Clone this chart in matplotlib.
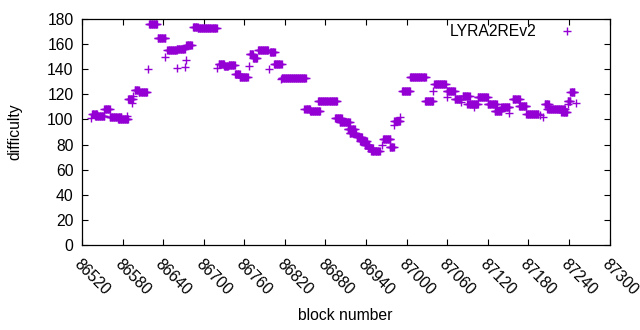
import numpy as np
import matplotlib
matplotlib.use("Agg")
import matplotlib.pyplot as plt

plt.rcParams['font.family'] = ['Liberation Sans', 'DejaVu Sans']

# Runs of consecutive blocks sharing the same difficulty
run_start = [86533, 86535, 86539, 86553, 86561, 86573, 86586, 86588, 86594, 86595,
             86598, 86604, 86618, 86619, 86632, 86643, 86646, 86660, 86660, 86672,
             86674, 86674, 86684, 86691, 86719, 86722, 86730, 86737, 86746, 86753,
             86767, 86768, 86773, 86780, 86796, 86798, 86804, 86814, 86815, 86849,
             86857, 86869, 86894, 86901, 86913, 86916, 86926, 86931, 86938, 86943,
             86948, 86963, 86965, 86975, 86982, 86982, 86990, 86993, 87005, 87027,
             87039, 87041, 87059, 87059, 87071, 87081, 87083, 87090, 87099, 87105,
             87120, 87130, 87140, 87151, 87157, 87166, 87177, 87197, 87201, 87204,
             87208, 87229, 87238, 87238, 87242, 87250]
run_end = [86533, 86542, 86553, 86561, 86578, 86588, 86586, 86595, 86594, 86595,
           86604, 86616, 86618, 86631, 86643, 86643, 86660, 86660, 86672, 86672,
           86674, 86682, 86691, 86719, 86719, 86730, 86736, 86746, 86753, 86765,
           86767, 86773, 86779, 86795, 86796, 86805, 86815, 86814, 86851, 86857,
           86872, 86897, 86904, 86916, 86923, 86925, 86934, 86941, 86945, 86950,
           86960, 86963, 86976, 86981, 86982, 86990, 86990, 87005, 87028, 87039,
           87039, 87058, 87059, 87071, 87081, 87081, 87093, 87105, 87099, 87120,
           87133, 87140, 87152, 87151, 87167, 87177, 87195, 87197, 87201, 87210,
           87234, 87237, 87238, 87242, 87248, 87250]
run_value = [101, 104.7, 103, 108.7, 102, 100.5, 103, 116.5, 113, 118.6,
             123.5, 122, 140, 176, 164.5, 150, 155, 140.6, 156.5, 142,
             147, 159, 174, 173, 141, 144, 142.5, 143, 136.5, 134,
             142.6, 152, 149, 155.5, 140, 154, 144, 132, 133.2, 108,
             106.5, 114.7, 101, 98, 92.5, 89.5, 86, 82.5, 79.5, 77,
             74.5, 79.7, 84.5, 78, 95.5, 98.5, 102, 122.5, 134, 115,
             122.7, 128.5, 118, 122.5, 116.5, 114, 119, 112.5, 110, 118,
             112.5, 107, 110, 105, 116, 110.5, 104.5, 103.5, 102, 112,
             108.5, 106, 112.4, 115, 122, 113]

series_label = "LYRA2REv2"
x_ticks = list(range(86520, 87301, 60))
y_ticks = list(range(0, 181, 20))

blocks, diffs = [], []
for s, e, v in zip(run_start, run_end, run_value):
    for b in range(s, e + 1):
        blocks.append(b)
        diffs.append(v)

FS = 11.3
fig = plt.figure(figsize=(6.4, 3.3), dpi=100)
ax = fig.add_axes([82/640, 1 - 245/330, (609.5 - 82)/640, (245 - 19)/330])

color = '#9400d3'
ax.plot(blocks, diffs, linestyle='none', marker='+', markersize=5.8,
        markeredgewidth=1.0, color=color, label=series_label)

ax.set_xlim(86520, 87300)
ax.set_ylim(0, 180)
ax.set_xticks(x_ticks)
ax.set_yticks(y_ticks)
ax.set_xticklabels([str(t) for t in x_ticks], rotation=-45, ha='left', va='top',
                   rotation_mode='anchor', fontsize=FS)
ax.set_yticklabels([str(t) for t in y_ticks], fontsize=FS)
ax.tick_params(direction='in', length=4, width=0.8, top=True, right=True, pad=6)
ax.tick_params(axis='x', pad=8)
for sp in ax.spines.values():
    sp.set_linewidth(0.9)

ax.set_xlabel('block number', fontsize=FS, labelpad=7)
ax.set_ylabel('difficulty', fontsize=FS, labelpad=18)

leg = ax.legend(loc='upper right', frameon=False, markerfirst=False, fontsize=FS,
                handlelength=2.6, handletextpad=0.7, borderaxespad=0, borderpad=0,
                numpoints=1,
                bbox_to_anchor=((587.8 - 82) / 527.5, (245 - 24.5) / 226))

fig.savefig('out.png', dpi=100)
